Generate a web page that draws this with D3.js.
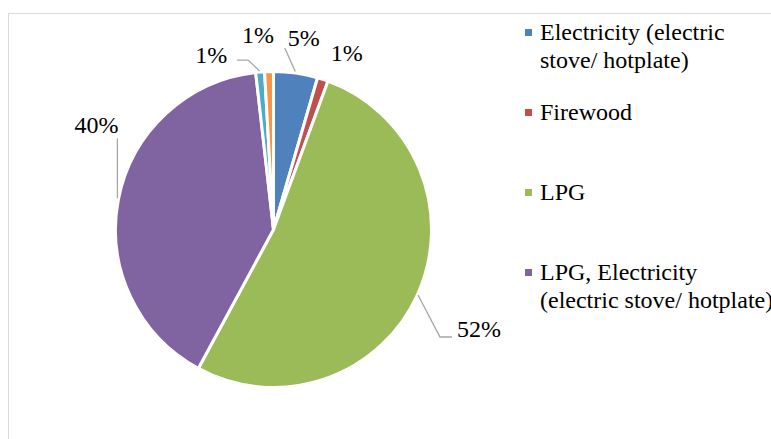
<!DOCTYPE html>
<html>
<head>
<meta charset="utf-8">
<script src="https://cdn.jsdelivr.net/npm/d3@7"></script>
<style>
  html, body { margin: 0; padding: 0; background: #fff; overflow: hidden; }
  svg { display: block; }
</style>
</head>
<body>
<svg id="chart" width="771" height="439"></svg>
<script>
// ---- data ----
const categories = [
  "Electricity (electric stove/ hotplate)",
  "Firewood",
  "LPG",
  "LPG, Electricity (electric stove/ hotplate)",
  "Other 1",
  "Other 2"
];
const values = [4.5, 1.1, 52.3, 40.3, 0.9, 0.9];
const valueLabels = ["5%", "1%", "52%", "40%", "1%", "1%"];
const colors = ["#4F81BD", "#C0504D", "#9BBB59", "#8064A2", "#4BACC6", "#F79646"];
const legendLines = [
  ["Electricity (electric", "stove/ hotplate)"],
  ["Firewood"],
  ["LPG"],
  ["LPG, Electricity", "(electric stove/ hotplate)"]
];

const FONT = "'Liberation Serif', 'Times New Roman', Tinos, 'DejaVu Serif', serif";

// ---- layout ----
const svg = d3.select("#chart");
const cx = 273.5, cy = 229.5, r = 158;

// frame
svg.append("rect")
  .attr("x", 8.5).attr("y", 13.5)
  .attr("width", 800).attr("height", 500)
  .attr("fill", "none").attr("stroke", "#d9d9d9").attr("stroke-width", 1);

const data = categories.map((c, i) => ({ name: c, value: values[i], label: valueLabels[i], color: colors[i] }));
const pie = d3.pie().value(d => d.value).sort(null).startAngle(0).endAngle(2 * Math.PI);
const arcs = pie(data);
const arc = d3.arc().innerRadius(0).outerRadius(r);

const g = svg.append("g").attr("transform", `translate(${cx},${cy})`);
g.selectAll("path.slice").data(arcs).enter().append("path")
  .attr("class", "slice")
  .attr("d", arc)
  .attr("fill", d => d.data.color)
  .attr("stroke", "#fff")
  .attr("stroke-width", 3)
  .attr("stroke-linejoin", "round");

// data labels positioned outside slices (offsets relative to slice edge midpoint)
const labelOffsets = [
  { dx: 8, dy: -27, anchor: "middle" },     // 5%
  { dx: 24, dy: -18.5, anchor: "middle" },  // 1% firewood
  { dx: 39.5, dy: 42.5, anchor: "start" },  // 52%
  { dx: 0, dy: -66, anchor: "end" },        // 40%
  { dx: -49, dy: -9, anchor: "middle" },    // 1% teal
  { dx: -11, dy: -28.5, anchor: "middle" }  // 1% orange
];
const outerArc = d3.arc().innerRadius(r).outerRadius(r);
const labelPos = arcs.map((a, i) => {
  const c = outerArc.centroid(a);
  return [c[0] + labelOffsets[i].dx, c[1] + labelOffsets[i].dy];
});

// leader lines
const leaders = {
  0: (a, p) => { const e = outerArc.centroid(a); return [[p[0] - 19, p[1] + 2], [e[0] - 0.5, e[1] - 1.5]]; },
  2: (a, p) => { const e = outerArc.centroid(a); return [[e[0] + 0.5, e[1] + 0.5], [p[0] - 17, p[1]], [p[0] - 5, p[1]]]; },
  3: (a, p) => [[p[0] - 1, p[1] + 5], [p[0] - 1, p[1] + 65]],
  4: (a, p) => { const e = outerArc.centroid(a); return [[p[0] + 26, p[1] - 3], [p[0] + 37, p[1] - 3], [e[0] - 0.5, e[1] - 1]]; }
};
Object.keys(leaders).forEach(k => {
  const i = +k;
  const pts = leaders[i](arcs[i], labelPos[i]);
  g.append("path")
    .attr("d", d3.line()(pts))
    .attr("fill", "none")
    .attr("stroke", "#a6a6a6")
    .attr("stroke-width", 1.3);
});

g.selectAll("text.lbl").data(arcs).enter().append("text")
  .attr("class", "lbl")
  .attr("x", (d, i) => labelPos[i][0])
  .attr("y", (d, i) => labelPos[i][1])
  .attr("text-anchor", (d, i) => labelOffsets[i].anchor)
  .attr("font-family", FONT)
  .attr("font-size", 24)
  .attr("fill", "#000")
  .text(d => d.data.label);

// legend
const legend = svg.append("g").attr("transform", "translate(525,0)");
const entryY = d3.scalePoint().domain(d3.range(legendLines.length)).range([40, 280]);
legendLines.forEach((lines, i) => {
  const y0 = entryY(i);
  legend.append("rect")
    .attr("x", 0).attr("y", y0 - 11)
    .attr("width", 7).attr("height", 7)
    .attr("fill", colors[i]);
  lines.forEach((t, j) => {
    legend.append("text")
      .attr("x", 15)
      .attr("y", y0 + j * 28)
      .attr("font-family", FONT)
      .attr("font-size", 24)
      .attr("fill", "#000")
      .text(t);
  });
});
</script>
</body>
</html>
